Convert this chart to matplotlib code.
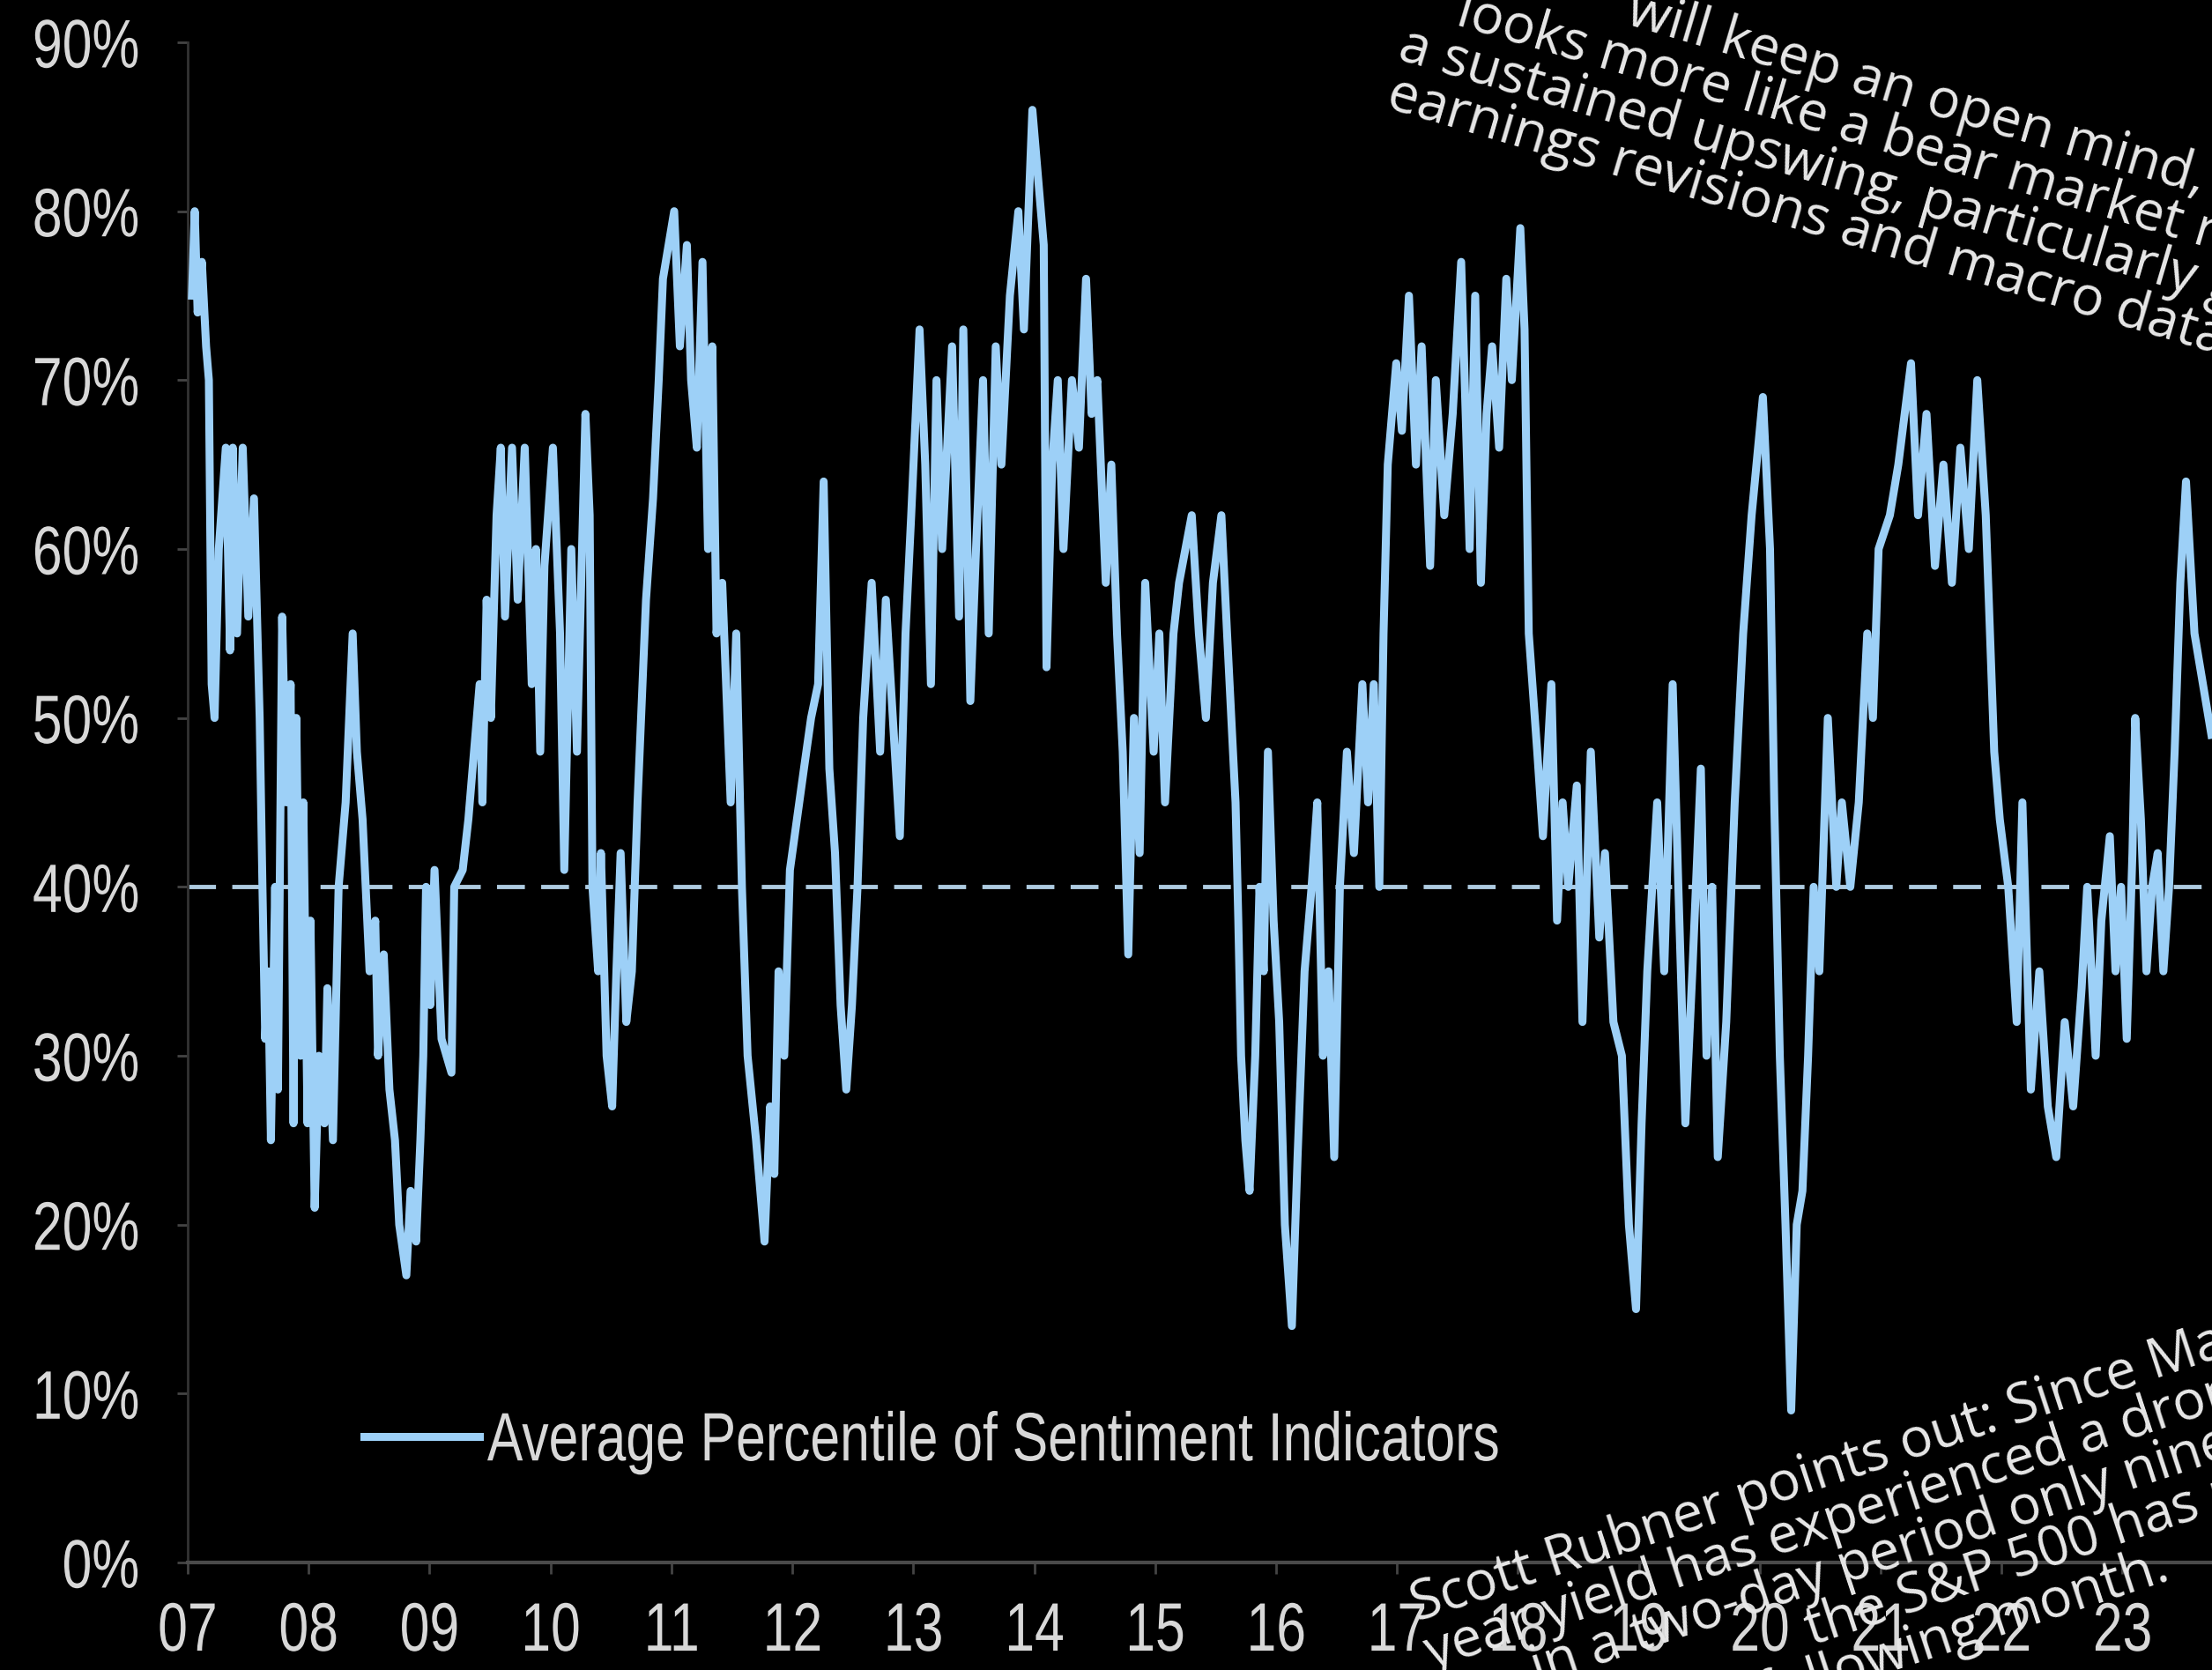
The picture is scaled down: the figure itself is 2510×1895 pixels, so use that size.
import matplotlib
matplotlib.use("Agg")
import matplotlib.pyplot as plt
from matplotlib.patheffects import AbstractPathEffect
from matplotlib.transforms import Affine2D

# --- data (decimal year, average percentile in %) ---
years = [
    2007.035, 2007.058, 2007.082, 2007.117, 2007.152, 2007.175, 2007.198, 2007.222, 2007.257, 2007.315,
    2007.350, 2007.373, 2007.408, 2007.455, 2007.501, 2007.548, 2007.595, 2007.618, 2007.641, 2007.665,
    2007.688, 2007.723, 2007.746, 2007.781, 2007.816, 2007.851, 2007.875, 2007.898, 2007.933, 2007.956,
    2007.991, 2008.015, 2008.050, 2008.085, 2008.131, 2008.155, 2008.201, 2008.248, 2008.306, 2008.364,
    2008.399, 2008.446, 2008.504, 2008.551, 2008.574, 2008.621, 2008.668, 2008.714, 2008.749, 2008.808,
    2008.843, 2008.889, 2008.924, 2008.948, 2008.971, 2009.006, 2009.041, 2009.099, 2009.181, 2009.204,
    2009.274, 2009.321, 2009.356, 2009.414, 2009.437, 2009.472, 2009.507, 2009.554, 2009.589, 2009.624,
    2009.682, 2009.729, 2009.787, 2009.845, 2009.880, 2009.915, 2009.950, 2010.020, 2010.079, 2010.114,
    2010.172, 2010.219, 2010.289, 2010.324, 2010.347, 2010.394, 2010.417, 2010.464, 2010.510, 2010.545,
    2010.580, 2010.627, 2010.673, 2010.720, 2010.790, 2010.848, 2010.895, 2010.930, 2011.023, 2011.070,
    2011.128, 2011.163, 2011.210, 2011.257, 2011.303, 2011.338, 2011.373, 2011.420, 2011.490, 2011.536,
    2011.583, 2011.630, 2011.700, 2011.770, 2011.816, 2011.851, 2011.886, 2011.933, 2011.980, 2012.038,
    2012.096, 2012.155, 2012.213, 2012.259, 2012.306, 2012.353, 2012.399, 2012.446, 2012.493, 2012.539,
    2012.586, 2012.656, 2012.726, 2012.773, 2012.889, 2012.936, 2012.983, 2013.052, 2013.099, 2013.146,
    2013.192, 2013.239, 2013.321, 2013.379, 2013.414, 2013.472, 2013.519, 2013.577, 2013.624, 2013.682,
    2013.729, 2013.799, 2013.869, 2013.915, 2013.985, 2014.032, 2014.079, 2014.102, 2014.149, 2014.195,
    2014.242, 2014.312, 2014.370, 2014.429, 2014.475, 2014.522, 2014.592, 2014.638, 2014.685, 2014.732,
    2014.778, 2014.825, 2014.872, 2014.918, 2014.988, 2015.035, 2015.082, 2015.152, 2015.198, 2015.303,
    2015.362, 2015.420, 2015.478, 2015.548, 2015.595, 2015.665, 2015.688, 2015.711, 2015.746, 2015.781,
    2015.828, 2015.863, 2015.898, 2015.933, 2015.980, 2016.026, 2016.073, 2016.131, 2016.178, 2016.236,
    2016.294, 2016.341, 2016.388, 2016.434, 2016.481, 2016.528, 2016.586, 2016.644, 2016.714, 2016.761,
    2016.808, 2016.854, 2016.889, 2016.924, 2016.994, 2017.041, 2017.099, 2017.157, 2017.204, 2017.274,
    2017.321, 2017.391, 2017.461, 2017.531, 2017.601, 2017.647, 2017.694, 2017.741, 2017.787, 2017.845,
    2017.904, 2017.950, 2018.020, 2018.055, 2018.090, 2018.160, 2018.207, 2018.277, 2018.324, 2018.370,
    2018.417, 2018.487, 2018.534, 2018.603, 2018.673, 2018.720, 2018.790, 2018.860, 2018.918, 2018.977,
    2019.023, 2019.070, 2019.152, 2019.210, 2019.280, 2019.327, 2019.385, 2019.443, 2019.513, 2019.560,
    2019.606, 2019.653, 2019.723, 2019.793, 2019.863, 2019.933, 2020.026, 2020.085, 2020.120, 2020.166,
    2020.213, 2020.260, 2020.306, 2020.353, 2020.400, 2020.446, 2020.493, 2020.563, 2020.633, 2020.679,
    2020.749, 2020.819, 2020.889, 2020.936, 2020.983, 2021.076, 2021.146, 2021.251, 2021.309, 2021.379,
    2021.449, 2021.519, 2021.589, 2021.659, 2021.729, 2021.799, 2021.869, 2021.939, 2021.985, 2022.055,
    2022.125, 2022.172, 2022.242, 2022.312, 2022.382, 2022.452, 2022.522, 2022.592, 2022.662, 2022.708,
    2022.778, 2022.825, 2022.895, 2022.942, 2022.988, 2023.035, 2023.082, 2023.105, 2023.152, 2023.198,
    2023.245, 2023.291, 2023.338, 2023.385, 2023.431, 2023.478, 2023.525, 2023.595, 2023.665, 2023.735,
]
pct = [
    75, 80, 74, 77, 72, 70, 52, 50, 60, 66,
    54, 66, 55, 66, 56, 63, 50, 40, 31, 35,
    25, 40, 28, 56, 45, 52, 26, 50, 30, 45,
    26, 38, 21, 30, 26, 34, 25, 40, 45, 55,
    48, 44, 35, 38, 30, 36, 28, 25, 20, 17,
    22, 19, 25, 30, 40, 33, 41, 31, 29, 40,
    41, 44, 47, 52, 45, 57, 50, 62, 66, 56,
    66, 57, 66, 52, 60, 48, 59, 66, 55, 41,
    60, 48, 68, 62, 40, 35, 42, 30, 27, 35,
    42, 32, 35, 45, 57, 63, 70, 76, 80, 72,
    78, 70, 66, 77, 60, 72, 55, 58, 45, 55,
    40, 30, 25, 19, 27, 23, 35, 30, 41, 44,
    47, 50, 52, 64, 47, 42, 33, 28, 33, 40,
    50, 58, 48, 57, 43, 55, 62, 73, 65, 52,
    70, 60, 72, 56, 73, 51, 60, 70, 55, 72,
    65, 75, 80, 73, 86, 82, 78, 53, 65, 70,
    60, 70, 66, 76, 68, 70, 58, 65, 55, 48,
    36, 50, 42, 58, 48, 55, 45, 55, 58, 62,
    55, 50, 58, 62, 55, 45, 38, 30, 25, 22,
    30, 40, 35, 48, 38, 32, 20, 14, 24, 35,
    40, 45, 30, 35, 24, 40, 48, 42, 52, 45,
    52, 40, 55, 65, 71, 67, 75, 65, 72, 59,
    70, 62, 68, 77, 60, 75, 58, 68, 72, 66,
    76, 70, 79, 73, 55, 48, 43, 52, 38, 45,
    40, 46, 32, 48, 37, 42, 32, 30, 20, 15,
    26, 35, 45, 35, 52, 40, 26, 35, 47, 30,
    40, 24, 32, 45, 55, 62, 69, 60, 45, 30,
    20, 9, 20, 22, 30, 40, 35, 50, 40, 45,
    40, 45, 55, 50, 60, 62, 65, 71, 62, 68,
    59, 65, 58, 66, 60, 70, 62, 48, 44, 40,
    32, 45, 28, 35, 27, 24, 32, 27, 34, 40,
    30, 38, 43, 35, 40, 31, 42, 50, 44, 35,
    40, 42, 35, 40, 48, 58, 64, 55, 52, 49,
]
threshold = 40
series_label = "Average Percentile of Sentiment Indicators"
year_ticks = list(range(2007, 2024))
year_labels = ["07", "08", "09", "10", "11", "12", "13", "14", "15", "16",
               "17", "18", "19", "20", "21", "22", "23"]
pct_ticks = [0, 10, 20, 30, 40, 50, 60, 70, 80, 90]

# overlay captions pasted over the screenshot
top_lines = [
    "will keep an open mind,",
    "looks more like a bear market rally than",
    "a sustained upswing, particularly given",
    "earnings revisions and macro data",
]
bottom_lines = [
    "Scott Rubner points out: Since May",
    "year yield has experienced a drop of",
    "in a two-day period only nine times",
    "the S&P 500 has risen",
    "following month.",
]


class Squeeze(AbstractPathEffect):
    """narrow the glyphs horizontally (the chart used a condensed Arial)"""
    def __init__(self, sx, anchor):
        super().__init__()
        self.sx, self.anchor = sx, anchor

    def draw_path(self, renderer, gc, tpath, affine, rgbFace=None):
        ext = tpath.get_extents()
        x0 = ext.x0 + self.anchor * ext.width
        sq = Affine2D().translate(-x0, 0).scale(self.sx, 1).translate(x0, 0)
        renderer.draw_path(gc, tpath, sq + affine, rgbFace)


axis_font = "Liberation Sans"
line_col = "#9dd0f7"
text_col = "#d8d8d8"
W, H = 2510, 1895

fig = plt.figure(figsize=(W / 100, H / 100), dpi=100, facecolor="black")
ax = fig.add_axes([213 / W, (H - 1773) / H, 1 - 213 / W, (1773 - 48) / H])
ax.set_facecolor("black")

ax.plot(years, pct, color=line_col, lw=6.5, label=series_label, zorder=3)
ax.axhline(threshold, color="#aecbe0", lw=3.5, dashes=(6.5, 3.8), zorder=2)

ax.set_xlim(2007, 2023.74)
ax.set_ylim(0, 90)
ax.set_xticks(year_ticks)
ax.set_xticklabels(year_labels)
ax.set_yticks(pct_ticks)
ax.set_yticklabels([f"{v}%" for v in pct_ticks])

for s in ["top", "right"]:
    ax.spines[s].set_visible(False)
ax.spines["left"].set_color("#333333")
ax.spines["bottom"].set_color("#4a4a4a")
ax.spines["left"].set_linewidth(2)
ax.spines["bottom"].set_linewidth(3)
ax.tick_params(axis="both", colors="#444444", length=9, width=2, direction="out",
               labelcolor=text_col, labelsize=56)
ax.tick_params(axis="y", pad=30)
ax.tick_params(axis="x", pad=22)
for lab in ax.get_xticklabels():
    lab.set_fontfamily(axis_font)
    lab.set_path_effects([Squeeze(0.78, 0.5)])
for lab in ax.get_yticklabels():
    lab.set_fontfamily(axis_font)
    lab.set_path_effects([Squeeze(0.78, 1.0)])

leg = ax.legend(loc="center left", bbox_to_anchor=(0.087, 0.079), frameon=False,
                handlelength=1.68, handletextpad=0.12, borderpad=0, borderaxespad=0,
                prop={"family": axis_font, "size": 56})
for t in leg.get_texts():
    t.set_color(text_col)
    t.set_path_effects([Squeeze(0.78, 0.0)])

# rotated captions (positions in figure pixels)
cap = dict(family="Open Sans", fontsize=44.5, color="#e8e8e8", rotation_mode="anchor",
           va="baseline", zorder=10)
top_pos = [(1843, 27), (1650, 28), (1584, 67), (1571, 122)]
for txt, (px, py) in zip(top_lines, top_pos):
    fig.text(px / W, 1 - py / H, txt, rotation=-16.5, ha="left", **cap)

bot_pos = [(1608, 1840, "left"), (1624, 1894, "left"), (1744, 1912, "left"),
           (2056, 1868, "left"), (2464, 1792, "right")]
for txt, (px, py, ha) in zip(bottom_lines, bot_pos):
    fig.text(px / W, 1 - py / H, txt, rotation=18.2, ha=ha, **cap)

fig.savefig("out.png", dpi=100, facecolor="black")
